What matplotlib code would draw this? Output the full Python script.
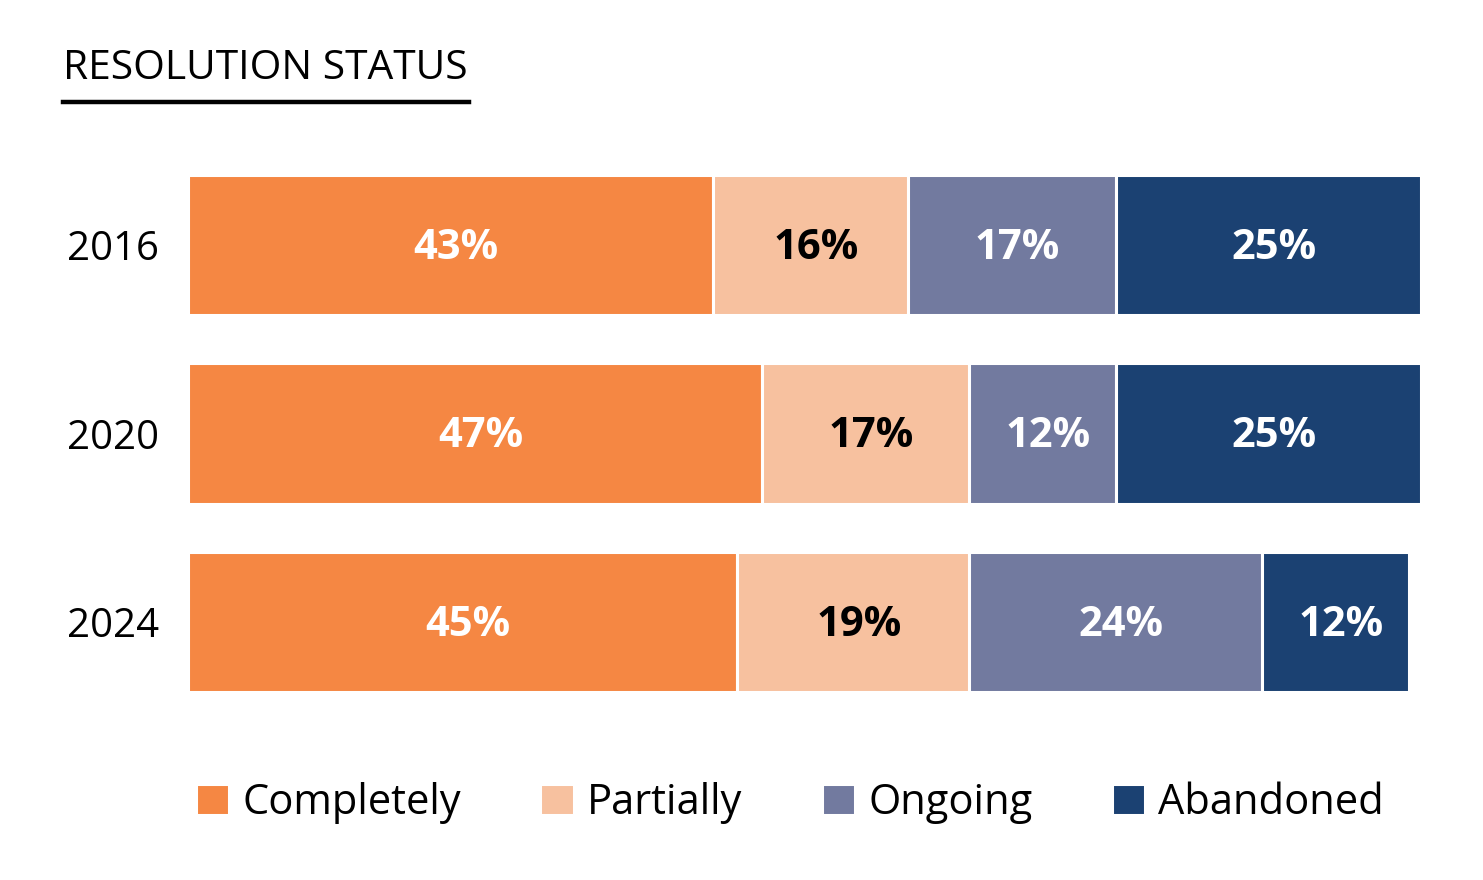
import matplotlib
matplotlib.use("Agg")
from matplotlib import pyplot as plt
from matplotlib.lines import Line2D

plt.rcParams['font.family'] = ['Open Sans', 'DejaVu Sans']

# data
years = ["2016", "2020", "2024"]
categories = ["Completely", "Partially", "Ongoing", "Abandoned"]
completely = [43, 47, 45]
partially = [16, 17, 19]
ongoing = [17, 12, 24]
abandoned = [25, 25, 12]

colors = ["#F58743", "#F7C19F", "#727A9F", "#1B4172"]
text_colors = ["white", "black", "white", "white"]

fig = plt.figure(figsize=(14.83, 8.8), dpi=100)
W, H = 1483, 880
ax = fig.add_axes([188 / W, 1 - 692 / H, (1421 - 188) / W, (692 - 175) / H])

series = [completely, partially, ongoing, abandoned]
left = [0] * len(years)
ypos = list(range(len(years)))
for vals, col, tcol, name in zip(series, colors, text_colors, categories):
    ax.barh(ypos, vals, left=left, height=0.745, color=col,
            edgecolor="white", linewidth=2.2, label=name)
    for i, v in enumerate(vals):
        # labels sit a touch right of the segment centre in the original
        ax.text(left[i] + v / 2 + 0.45, ypos[i] + 0.018, f"{v}%", ha="center",
                va="center", color=tcol, fontsize=30, fontweight="bold")
    left = [a + b for a, b in zip(left, vals)]

ax.set_xlim(0, 101)
ax.set_ylim(2.37, -0.37)
ax.set_yticks(ypos)
ax.set_yticklabels(years, fontsize=29)
ax.tick_params(axis="y", length=0, pad=21)
ax.set_xticks([])
for s in ax.spines.values():
    s.set_visible(False)

# title with underline
fig.text(63 / W, 1 - 69 / H, "RESOLUTION STATUS", fontsize=29.3,
         ha="left", va="center")
fig.add_artist(Line2D([63 / W, 469 / W], [1 - 102 / H, 1 - 102 / H],
                      color="black", linewidth=3.2, transform=fig.transFigure))

fig.legend(loc="center", bbox_to_anchor=(790 / W, 1 - 803 / H), ncol=4,
           frameon=False, fontsize=30, handlelength=0.8, handleheight=0.8,
           handletextpad=0.32, columnspacing=1.9)

fig.savefig("out.png", dpi=100, facecolor="white")
